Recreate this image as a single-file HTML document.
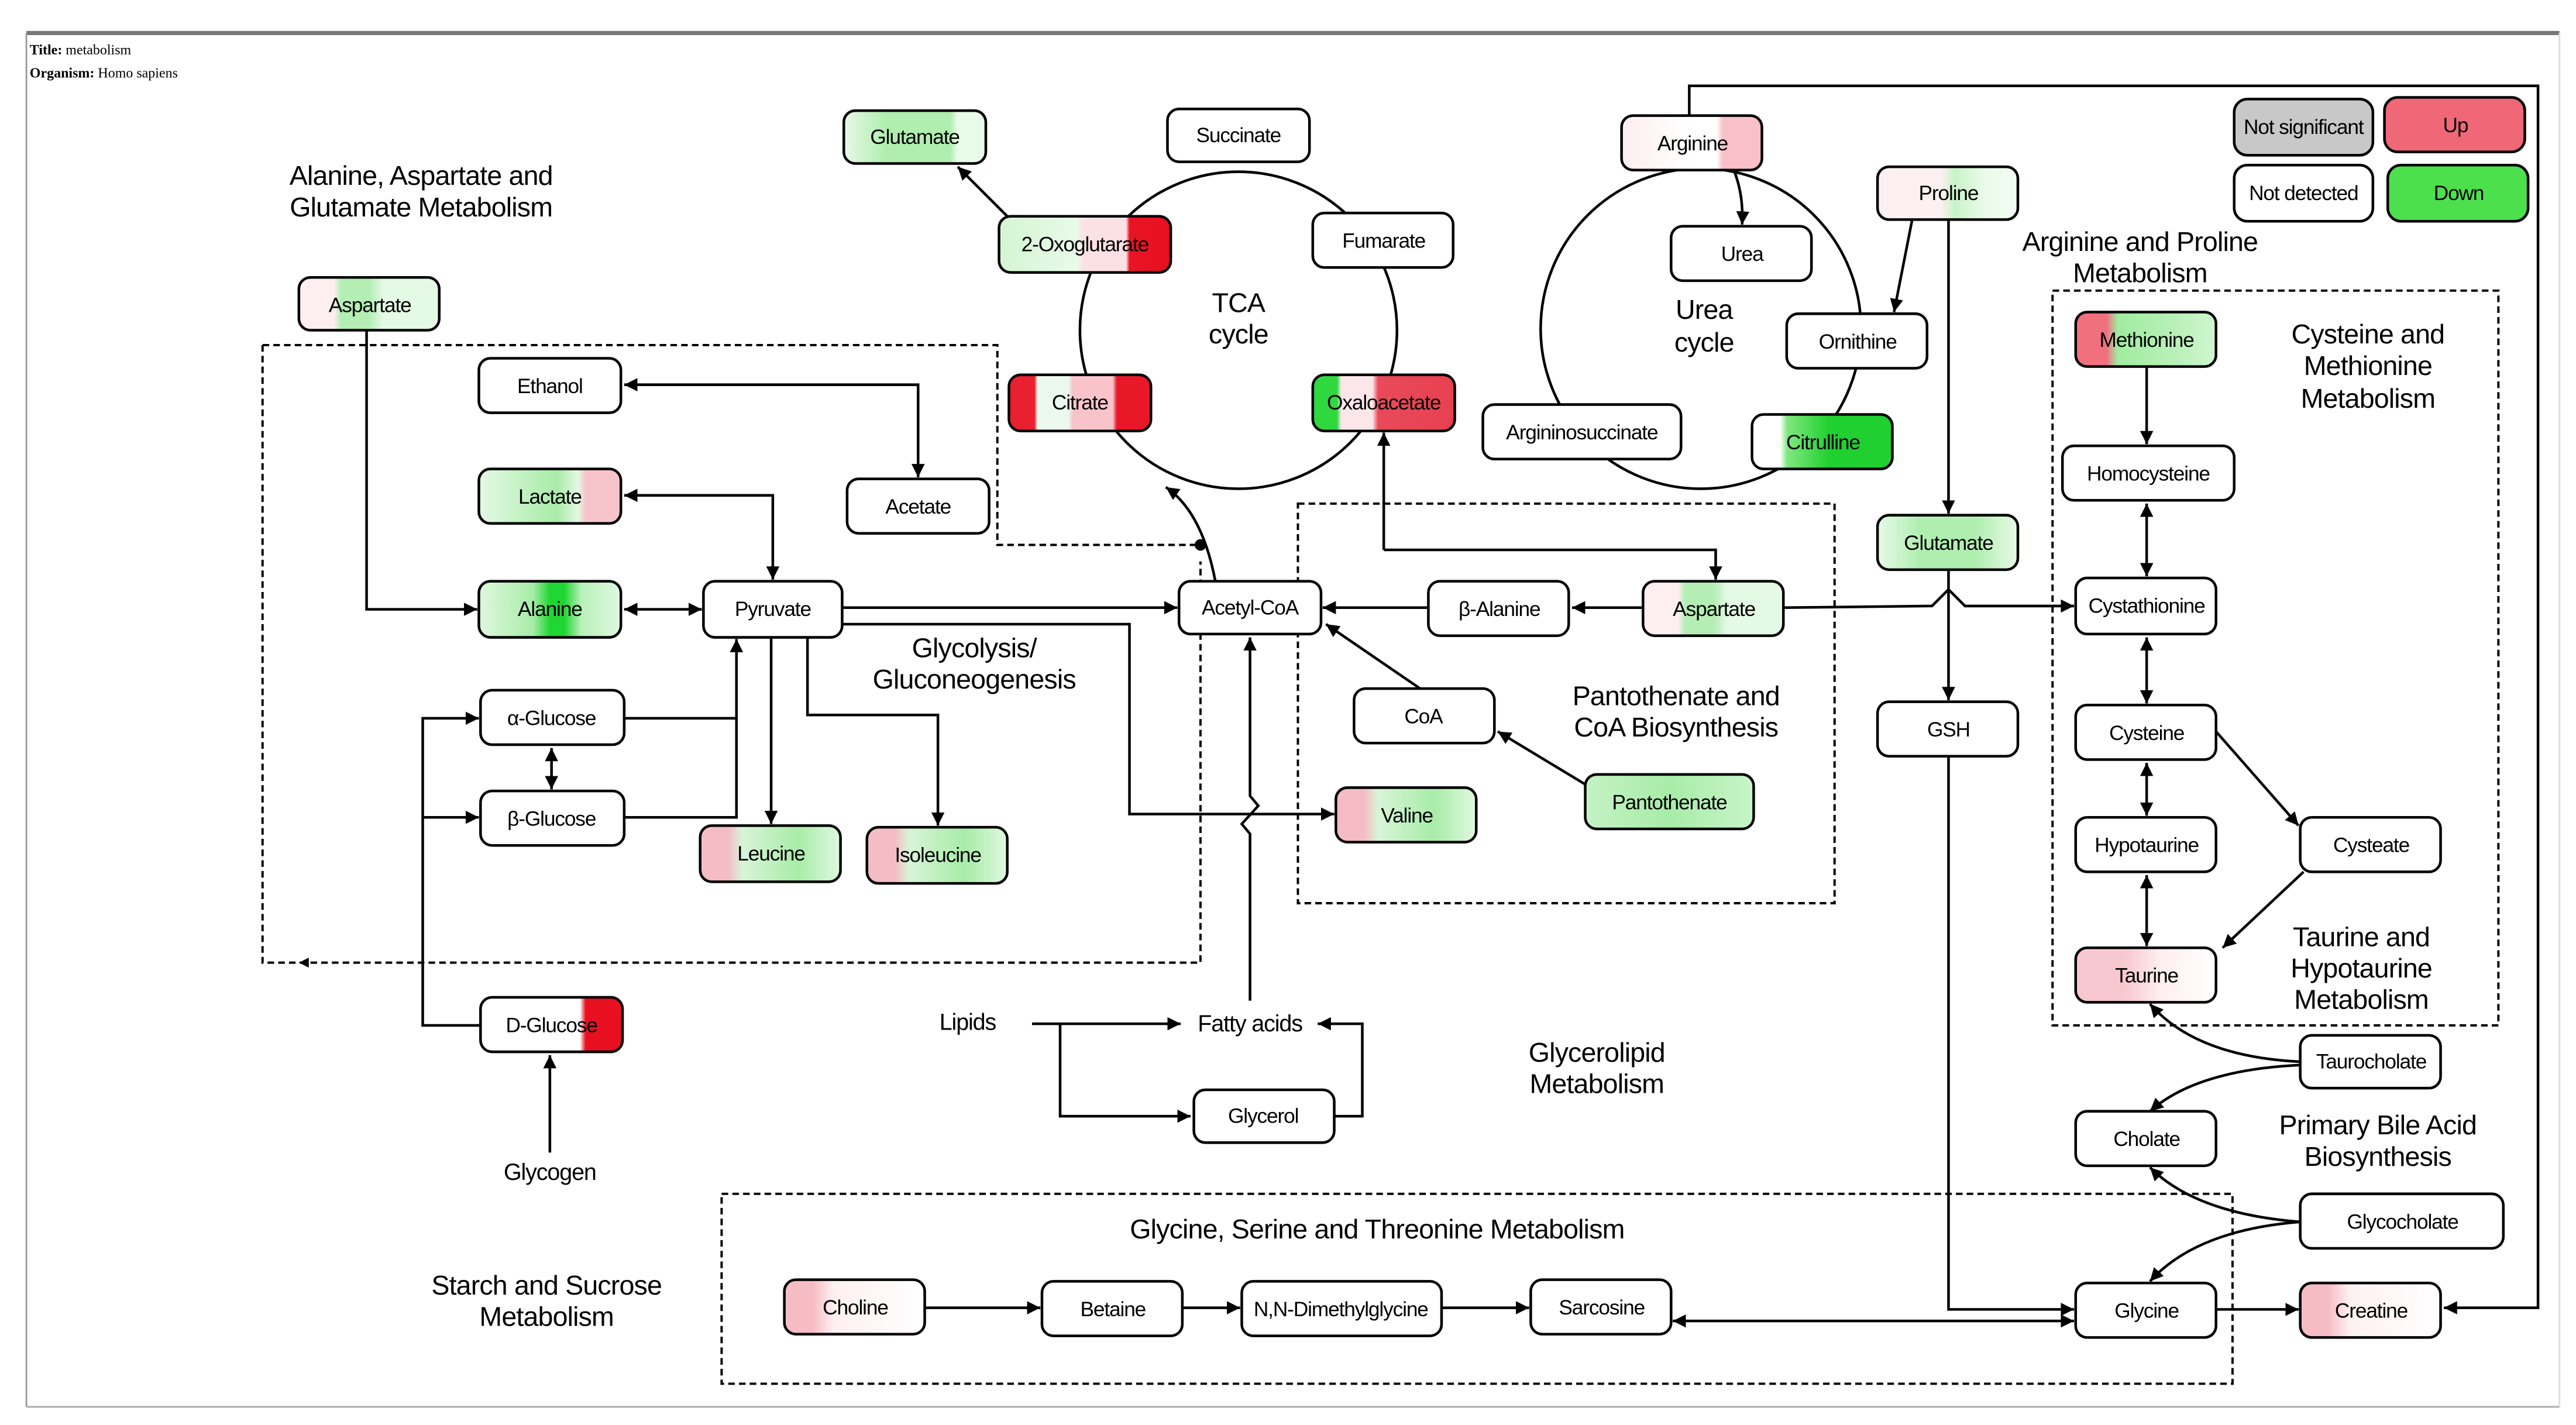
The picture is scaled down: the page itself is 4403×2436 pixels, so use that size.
<!DOCTYPE html>
<html><head><meta charset="utf-8">
<style>
html,body{margin:0;padding:0;background:#fff;}
svg{display:block;}
text{font-family:"Liberation Sans Narrow","Liberation Sans",sans-serif;fill:#000;}
.n{font-size:12.5px;letter-spacing:-0.4px;text-anchor:middle;dominant-baseline:central;}
.l{font-size:16.5px;text-anchor:middle;letter-spacing:-0.3px;}
.b{fill:#fff;stroke:#000;stroke-width:1.6;}
.ln{fill:none;stroke:#000;stroke-width:1.6;}
.d{fill:none;stroke:#000;stroke-width:1.4;stroke-dasharray:4,2.5;}
</style></head><body>
<svg width="4403" height="2436" viewBox="0 0 1560 863" preserveAspectRatio="none" xmlns="http://www.w3.org/2000/svg">
<defs>
<marker id="a" viewBox="0 0 10 10" refX="10" refY="5" markerWidth="8" markerHeight="8" orient="auto-start-reverse" markerUnits="userSpaceOnUse"><path d="M0,0L10,5L0,10z" fill="#000"/></marker>
<linearGradient id="gGlu"><stop offset="0" stop-color="#e8f8e8"/><stop offset=".3" stop-color="#b0eeb0"/><stop offset=".75" stop-color="#b0eeb0"/><stop offset=".8" stop-color="#e8fbe8"/><stop offset="1" stop-color="#e8fbe8"/></linearGradient>
<linearGradient id="gOxo"><stop offset="0" stop-color="#d4f5d4"/><stop offset=".45" stop-color="#e8fae8"/><stop offset=".5" stop-color="#fbe0e4"/><stop offset=".74" stop-color="#fbe0e4"/><stop offset=".76" stop-color="#e81424"/><stop offset="1" stop-color="#e81020"/></linearGradient>
<linearGradient id="gCit"><stop offset="0" stop-color="#e82030"/><stop offset=".18" stop-color="#e82030"/><stop offset=".2" stop-color="#eaf8ee"/><stop offset=".42" stop-color="#eaf8ee"/><stop offset=".45" stop-color="#f8c4ca"/><stop offset=".73" stop-color="#f8c4ca"/><stop offset=".76" stop-color="#e81828"/><stop offset="1" stop-color="#e81828"/></linearGradient>
<linearGradient id="gOxa"><stop offset="0" stop-color="#30d840"/><stop offset=".17" stop-color="#30d840"/><stop offset=".2" stop-color="#fbe6ea"/><stop offset=".42" stop-color="#fbe6ea"/><stop offset=".46" stop-color="#e84a5a"/><stop offset="1" stop-color="#e84050"/></linearGradient>
<linearGradient id="gAsp"><stop offset="0" stop-color="#fdeef0"/><stop offset=".25" stop-color="#fdeef0"/><stop offset=".3" stop-color="#b4eeb4"/><stop offset=".5" stop-color="#b4eeb4"/><stop offset=".6" stop-color="#e4fae4"/><stop offset="1" stop-color="#e4fae4"/></linearGradient>
<linearGradient id="gLac"><stop offset="0" stop-color="#e4f8e4"/><stop offset=".55" stop-color="#a8eca8"/><stop offset=".7" stop-color="#e4f8e4"/><stop offset=".75" stop-color="#f8c4cc"/><stop offset="1" stop-color="#f8c4cc"/></linearGradient>
<linearGradient id="gAla"><stop offset="0" stop-color="#e0f8e0"/><stop offset=".38" stop-color="#a8eca8"/><stop offset=".5" stop-color="#20d632"/><stop offset=".6" stop-color="#20d632"/><stop offset=".72" stop-color="#b8f0b8"/><stop offset="1" stop-color="#e0f8e0"/></linearGradient>
<linearGradient id="gLeu"><stop offset="0" stop-color="#f4bcc4"/><stop offset=".2" stop-color="#f4bcc4"/><stop offset=".3" stop-color="#d8f4d8"/><stop offset=".7" stop-color="#a8eca8"/><stop offset="1" stop-color="#e0f8e0"/></linearGradient>
<linearGradient id="gDg"><stop offset="0" stop-color="#fff"/><stop offset=".7" stop-color="#fff"/><stop offset=".74" stop-color="#e81020"/><stop offset="1" stop-color="#e81020"/></linearGradient>
<linearGradient id="gPan"><stop offset="0" stop-color="#c4f2c4"/><stop offset=".5" stop-color="#a8eca8"/><stop offset="1" stop-color="#c8f4c8"/></linearGradient>
<linearGradient id="gArg"><stop offset="0" stop-color="#fdeef0"/><stop offset=".5" stop-color="#fff"/><stop offset=".68" stop-color="#fff"/><stop offset=".72" stop-color="#f8c0c8"/><stop offset="1" stop-color="#f8c0c8"/></linearGradient>
<linearGradient id="gPro"><stop offset="0" stop-color="#fdf0f2"/><stop offset=".45" stop-color="#fdf0f2"/><stop offset=".55" stop-color="#c8f4c8"/><stop offset=".75" stop-color="#e8fae8"/><stop offset="1" stop-color="#f4fdf4"/></linearGradient>
<linearGradient id="gCtl"><stop offset="0" stop-color="#fff"/><stop offset=".2" stop-color="#fff"/><stop offset=".25" stop-color="#80e880"/><stop offset=".55" stop-color="#20d030"/><stop offset="1" stop-color="#20d030"/></linearGradient>
<linearGradient id="gMet"><stop offset="0" stop-color="#f07080"/><stop offset=".22" stop-color="#f07080"/><stop offset=".3" stop-color="#a0eca0"/><stop offset=".7" stop-color="#b8f0b8"/><stop offset="1" stop-color="#d0f6d0"/></linearGradient>
<linearGradient id="gTau"><stop offset="0" stop-color="#f8c8d0"/><stop offset=".35" stop-color="#f8c8d0"/><stop offset=".6" stop-color="#fdeef0"/><stop offset="1" stop-color="#fff"/></linearGradient>
<linearGradient id="gCre"><stop offset="0" stop-color="#f6bcc4"/><stop offset=".2" stop-color="#f6bcc4"/><stop offset=".35" stop-color="#fdf0f2"/><stop offset="1" stop-color="#fff"/></linearGradient>
<linearGradient id="gG2"><stop offset="0" stop-color="#e8fae8"/><stop offset=".3" stop-color="#b0eeb0"/><stop offset=".7" stop-color="#b0eeb0"/><stop offset="1" stop-color="#e8fae8"/></linearGradient>
</defs>

<rect x="0" y="0" width="1560" height="863" fill="#fff"/>
<line x1="16" y1="20" x2="1550" y2="20" stroke="#777" stroke-width="2.5"/>
<line x1="16" y1="20" x2="16" y2="852" stroke="#999" stroke-width="1"/>
<line x1="16" y1="852" x2="1550" y2="852" stroke="#aaa" stroke-width="1"/>
<line x1="1550" y1="20" x2="1550" y2="852" stroke="#ddd" stroke-width="1"/>
<text x="18" y="33" style="font-family:'Liberation Serif',serif;font-size:8.5px;"><tspan font-weight="bold">Title:</tspan>  metabolism</text>
<text x="18" y="47" style="font-family:'Liberation Serif',serif;font-size:8.5px;"><tspan font-weight="bold">Organism:</tspan>  Homo sapiens</text>

<circle cx="750" cy="200" r="96" class="ln" stroke-width="1.4"/>
<circle cx="1030" cy="199" r="97" class="ln" stroke-width="1.4"/>

<path class="d" d="M159,209 L604,209 L604,330 L727,330 M159,209 L159,583 L727,583 L727,340"/>
<path d="M187,580 L181,583 L187,586z" fill="#000"/>
<circle cx="727" cy="330" r="3.5" fill="#000"/>
<rect class="d" x="786" y="305" width="325" height="242"/>
<rect class="d" x="1243" y="176" width="270" height="445"/>
<rect class="d" x="437" y="723" width="915" height="115"/>

<g class="ln">
<path d="M610,131 L580,101" marker-end="url(#a)"/>
<path d="M736,352 Q728,310 706,295" marker-end="url(#a)"/>
<path d="M378,233 L556,233 L556,289" marker-start="url(#a)" marker-end="url(#a)"/>
<path d="M378,300 L468,300 L468,351" marker-start="url(#a)" marker-end="url(#a)"/>
<path d="M378,369 L425,369" marker-start="url(#a)" marker-end="url(#a)"/>
<path d="M222,200 L222,369 L289,369" marker-end="url(#a)"/>
<path d="M510,368 L713,368" marker-end="url(#a)"/>
<path d="M510,378 L684,378 L684,493 L808,493" marker-end="url(#a)"/>
<path d="M467,386 L467,499" marker-end="url(#a)"/>
<path d="M489,386 L489,433 L568,433 L568,500" marker-end="url(#a)"/>
<path d="M378,435 L446,435 L446,387" marker-end="url(#a)"/>
<path d="M378,495 L446,495 L446,435"/>
<path d="M334,453 L334,478" marker-start="url(#a)" marker-end="url(#a)"/>
<path d="M291,621 L256,621 L256,435 L290,435" marker-end="url(#a)"/>
<path d="M256,495 L290,495" marker-end="url(#a)"/>
<path d="M333,698 L333,639" marker-end="url(#a)"/>
<path d="M625,620 L715,620" marker-end="url(#a)"/>
<path d="M642,620 L642,676 L721,676" marker-end="url(#a)"/>
<path d="M808,676 L825,676 L825,620 L798,620" marker-end="url(#a)"/>
<path d="M757,606 L757,505 L752,499 L762,488 L757,482 L757,386" marker-end="url(#a)"/>
<path d="M995,368 L952,368" marker-end="url(#a)"/>
<path d="M865,368 L801,368" marker-end="url(#a)"/>
<path d="M860,417 L803,378" marker-end="url(#a)"/>
<path d="M960,475 L907,443" marker-end="url(#a)"/>
<path d="M838,333 L838,262" marker-end="url(#a)"/>
<path d="M838,333 L1039,333 L1039,351" marker-end="url(#a)"/>
<path d="M1080,368 L1170,367 L1180,357 L1190,367 L1256,367" marker-end="url(#a)"/>
<path d="M1050,103 Q1056,118 1055,136" marker-end="url(#a)"/>
<path d="M1158,133 L1147,189" marker-end="url(#a)"/>
<path d="M1180,133 L1180,311" marker-end="url(#a)"/>
<path d="M1180,345 L1180,424" marker-end="url(#a)"/>
<path d="M1180,458 L1180,793 L1256,793" marker-end="url(#a)"/>
<path d="M1023,70 L1023,52 L1537,52 L1537,792 L1480,792" marker-end="url(#a)"/>
<path d="M1300,222 L1300,269" marker-end="url(#a)"/>
<path d="M1300,305 L1300,349" marker-start="url(#a)" marker-end="url(#a)"/>
<path d="M1300,386 L1300,426" marker-start="url(#a)" marker-end="url(#a)"/>
<path d="M1300,462 L1300,494" marker-start="url(#a)" marker-end="url(#a)"/>
<path d="M1300,530 L1300,573" marker-start="url(#a)" marker-end="url(#a)"/>
<path d="M1342,443 L1392,500" marker-end="url(#a)"/>
<path d="M1395,528 L1346,574" marker-end="url(#a)"/>
<path d="M1393,643 Q1330,640 1302,608" marker-end="url(#a)"/>
<path d="M1393,645 Q1330,648 1302,673" marker-end="url(#a)"/>
<path d="M1393,740 Q1330,735 1302,707" marker-end="url(#a)"/>
<path d="M1393,740 Q1330,745 1302,776" marker-end="url(#a)"/>
<path d="M1342,793 L1392,793" marker-end="url(#a)"/>
<path d="M560,792 L630,792" marker-end="url(#a)"/>
<path d="M716,792 L751,792" marker-end="url(#a)"/>
<path d="M873,792 L926,792" marker-end="url(#a)"/>
<path d="M1013,800 L1256,800" marker-start="url(#a)" marker-end="url(#a)"/>
</g>

<g>
<rect class="b" x="511" y="67" width="86" height="32" rx="7" style="fill:url(#gGlu)"/><text class="n" x="554" y="83">Glutamate</text>
<rect class="b" x="707" y="66" width="86" height="32" rx="7"/><text class="n" x="750" y="82">Succinate</text>
<rect class="b" x="605" y="131" width="104" height="34" rx="7" style="fill:url(#gOxo)"/><text class="n" x="657" y="148">2-Oxoglutarate</text>
<rect class="b" x="795" y="129" width="85" height="33" rx="7"/><text class="n" x="838" y="146">Fumarate</text>
<rect class="b" x="611" y="227" width="86" height="34" rx="7" style="fill:url(#gCit)"/><text class="n" x="654" y="244">Citrate</text>
<rect class="b" x="795" y="227" width="86" height="34" rx="7" style="fill:url(#gOxa)"/><text class="n" x="838" y="244">Oxaloacetate</text>
<rect class="b" x="181" y="168" width="85" height="32" rx="7" style="fill:url(#gAsp)"/><text class="n" x="224" y="185">Aspartate</text>
<rect class="b" x="290" y="217" width="86" height="33" rx="7"/><text class="n" x="333" y="234">Ethanol</text>
<rect class="b" x="513" y="290" width="86" height="33" rx="7"/><text class="n" x="556" y="307">Acetate</text>
<rect class="b" x="290" y="284" width="86" height="33" rx="7" style="fill:url(#gLac)"/><text class="n" x="333" y="301">Lactate</text>
<rect class="b" x="290" y="352" width="86" height="34" rx="7" style="fill:url(#gAla)"/><text class="n" x="333" y="369">Alanine</text>
<rect class="b" x="426" y="352" width="84" height="34" rx="7"/><text class="n" x="468" y="369">Pyruvate</text>
<rect class="b" x="291" y="418" width="87" height="33" rx="7"/><text class="n" x="334" y="435">α-Glucose</text>
<rect class="b" x="291" y="479" width="87" height="33" rx="7"/><text class="n" x="334" y="496">β-Glucose</text>
<rect class="b" x="424" y="500" width="85" height="34" rx="7" style="fill:url(#gLeu)"/><text class="n" x="467" y="517">Leucine</text>
<rect class="b" x="525" y="501" width="85" height="34" rx="7" style="fill:url(#gLeu)"/><text class="n" x="568" y="518">Isoleucine</text>
<rect class="b" x="714" y="352" width="86" height="32" rx="7"/><text class="n" x="757" y="368">Acetyl-CoA</text>
<rect class="b" x="291" y="604" width="86" height="33" rx="7" style="fill:url(#gDg)"/><text class="n" x="334" y="621">D-Glucose</text>
<rect class="b" x="723" y="660" width="85" height="32" rx="7"/><text class="n" x="765" y="676">Glycerol</text>
<rect class="b" x="809" y="477" width="85" height="33" rx="7" style="fill:url(#gLeu)"/><text class="n" x="852" y="494">Valine</text>
<rect class="b" x="865" y="352" width="85" height="33" rx="7"/><text class="n" x="908" y="369">β-Alanine</text>
<rect class="b" x="995" y="352" width="85" height="33" rx="7" style="fill:url(#gAsp)"/><text class="n" x="1038" y="369">Aspartate</text>
<rect class="b" x="820" y="417" width="85" height="33" rx="7"/><text class="n" x="862" y="434">CoA</text>
<rect class="b" x="960" y="469" width="102" height="33" rx="7" style="fill:url(#gPan)"/><text class="n" x="1011" y="486">Pantothenate</text>
<rect class="b" x="982" y="70" width="85" height="33" rx="7" style="fill:url(#gArg)"/><text class="n" x="1025" y="87">Arginine</text>
<rect class="b" x="1012" y="137" width="85" height="33" rx="7"/><text class="n" x="1055" y="154">Urea</text>
<rect class="b" x="1082" y="190" width="85" height="33" rx="7"/><text class="n" x="1125" y="207">Ornithine</text>
<rect class="b" x="898" y="245" width="120" height="33" rx="7"/><text class="n" x="958" y="262">Argininosuccinate</text>
<rect class="b" x="1061" y="251" width="85" height="33" rx="7" style="fill:url(#gCtl)"/><text class="n" x="1104" y="268">Citrulline</text>
<rect class="b" x="1137" y="101" width="85" height="32" rx="7" style="fill:url(#gPro)"/><text class="n" x="1180" y="117">Proline</text>
<rect class="b" x="1137" y="312" width="85" height="33" rx="7" style="fill:url(#gG2)"/><text class="n" x="1180" y="329">Glutamate</text>
<rect class="b" x="1137" y="425" width="85" height="33" rx="7"/><text class="n" x="1180" y="442">GSH</text>
<rect class="b" x="1353" y="60" width="84" height="34" rx="8" style="fill:#c8c8c8"/><text class="n" x="1395" y="77">Not significant</text>
<rect class="b" x="1444" y="59" width="85" height="33" rx="8" style="fill:#f06878"/><text class="n" x="1487" y="76">Up</text>
<rect class="b" x="1353" y="100" width="84" height="34" rx="8"/><text class="n" x="1395" y="117">Not detected</text>
<rect class="b" x="1446" y="100" width="85" height="34" rx="8" style="fill:#4ce04c"/><text class="n" x="1489" y="117">Down</text>
<rect class="b" x="1257" y="189" width="85" height="33" rx="7" style="fill:url(#gMet)"/><text class="n" x="1300" y="206">Methionine</text>
<rect class="b" x="1249" y="270" width="104" height="33" rx="7"/><text class="n" x="1301" y="287">Homocysteine</text>
<rect class="b" x="1257" y="350" width="85" height="34" rx="7"/><text class="n" x="1300" y="367">Cystathionine</text>
<rect class="b" x="1257" y="427" width="85" height="33" rx="7"/><text class="n" x="1300" y="444">Cysteine</text>
<rect class="b" x="1257" y="495" width="85" height="33" rx="7"/><text class="n" x="1300" y="512">Hypotaurine</text>
<rect class="b" x="1393" y="495" width="85" height="33" rx="7"/><text class="n" x="1436" y="512">Cysteate</text>
<rect class="b" x="1257" y="574" width="85" height="33" rx="7" style="fill:url(#gTau)"/><text class="n" x="1300" y="591">Taurine</text>
<rect class="b" x="1393" y="627" width="85" height="32" rx="7"/><text class="n" x="1436" y="643">Taurocholate</text>
<rect class="b" x="1257" y="673" width="85" height="33" rx="7"/><text class="n" x="1300" y="690">Cholate</text>
<rect class="b" x="1393" y="723" width="123" height="33" rx="7"/><text class="n" x="1455" y="740">Glycocholate</text>
<rect class="b" x="1257" y="777" width="85" height="33" rx="7"/><text class="n" x="1300" y="794">Glycine</text>
<rect class="b" x="1393" y="777" width="85" height="33" rx="7" style="fill:url(#gCre)"/><text class="n" x="1436" y="794">Creatine</text>
<rect class="b" x="475" y="775" width="85" height="33" rx="7" style="fill:url(#gCre)"/><text class="n" x="518" y="792">Choline</text>
<rect class="b" x="631" y="776" width="85" height="33" rx="7"/><text class="n" x="674" y="793">Betaine</text>
<rect class="b" x="752" y="776" width="121" height="33" rx="7"/><text class="n" x="812" y="793">N,N-Dimethylglycine</text>
<rect class="b" x="927" y="775" width="85" height="33" rx="7"/><text class="n" x="970" y="792">Sarcosine</text>
</g>

<text class="n" x="333" y="710" style="font-size:14px">Glycogen</text>
<text class="n" x="586" y="619" style="font-size:14px">Lipids</text>
<text class="n" x="757" y="620" style="font-size:14px">Fatty acids</text>

<text class="l" x="255" y="112">Alanine, Aspartate and</text>
<text class="l" x="255" y="131">Glutamate Metabolism</text>
<text class="l" x="750" y="189">TCA</text>
<text class="l" x="750" y="208">cycle</text>
<text class="l" x="1032" y="193">Urea</text>
<text class="l" x="1032" y="213">cycle</text>
<text class="l" x="590" y="398">Glycolysis/</text>
<text class="l" x="590" y="417">Gluconeogenesis</text>
<text class="l" x="1015" y="427">Pantothenate and</text>
<text class="l" x="1015" y="446">CoA Biosynthesis</text>
<text class="l" x="1296" y="152">Arginine and Proline</text>
<text class="l" x="1296" y="171">Metabolism</text>
<text class="l" x="1434" y="208">Cysteine and</text>
<text class="l" x="1434" y="227">Methionine</text>
<text class="l" x="1434" y="247">Metabolism</text>
<text class="l" x="1430" y="573">Taurine and</text>
<text class="l" x="1430" y="592">Hypotaurine</text>
<text class="l" x="1430" y="611">Metabolism</text>
<text class="l" x="1440" y="687">Primary Bile Acid</text>
<text class="l" x="1440" y="706">Biosynthesis</text>
<text class="l" x="967" y="643">Glycerolipid</text>
<text class="l" x="967" y="662">Metabolism</text>
<text class="l" x="834" y="750">Glycine, Serine and Threonine Metabolism</text>
<text class="l" x="331" y="784">Starch and Sucrose</text>
<text class="l" x="331" y="803">Metabolism</text>
</svg>
</body></html>
